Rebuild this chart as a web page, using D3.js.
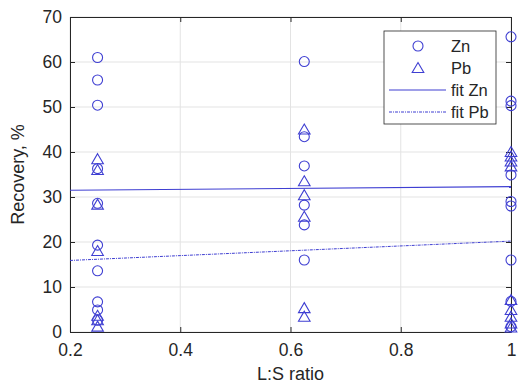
<!DOCTYPE html>
<html>
<head>
<meta charset="utf-8">
<script src="https://cdn.jsdelivr.net/npm/d3@7/dist/d3.min.js"></script>
<style>
  body { margin: 0; background: #fff; }
  text { font-family: "Liberation Sans", Arial, sans-serif; fill: #262626; }
</style>
</head>
<body>
<div id="chart"></div>
<script>
// L:S ratios used in the test
const ratios = [0.25, 0.625, 1];

// recovery of Zn (%) at each ratio
const znAt025 = [61, 56, 50.4, 36.3, 28.6, 19.3, 13.6, 6.7, 4.9, 2.6];
const znAt0625 = [60.1, 43.4, 36.9, 28.2, 23.8, 16.0];
const znAt1 = [65.6, 51.3, 50.3, 34.9, 29, 28, 16, 6.8, 1.2];

// recovery of Pb (%) at each ratio
const pbAt025 = [38.4, 36, 28.3, 18, 3.6, 2.6, 1.2];
const pbAt0625 = [45.0, 33.5, 30.4, 25.6, 5.3, 3.4];
const pbAt1 = [40, 39, 37.9, 36.8, 7.1, 4.9, 3.4, 1.9, 1.0];

// linear fits, [ratio, recovery] at the axis limits
const fitZn = [[0.2, 31.5], [1, 32.3]];
const fitPb = [[0.2, 15.9], [1, 20.2]];

const xTicks = [0.2, 0.4, 0.6, 0.8, 1];
const yTicks = [0, 10, 20, 30, 40, 50, 60, 70];

const blue = '#3f3fd2';

// set the dimensions and margins of the graph
const margin = { top: 17, right: 17, bottom: 53, left: 70 };
const width = 528 - margin.left - margin.right;
const height = 385 - margin.top - margin.bottom;

const svg = d3.select('#chart').append('svg')
  .attr('width', 528)
  .attr('height', 385)
  .append('g')
  .attr('transform', `translate(${margin.left}, ${margin.top})`);

const x = d3.scaleLinear().domain([0.2, 1]).range([0, width]);
const y = d3.scaleLinear().domain([0, 70]).range([height, 0]);

// grid
svg.append('g').selectAll('line.gx').data(xTicks).join('line')
  .attr('x1', (d) => x(d)).attr('x2', (d) => x(d))
  .attr('y1', 0).attr('y2', height)
  .attr('stroke', '#e3e3e3').attr('stroke-width', 1);
svg.append('g').selectAll('line.gy').data(yTicks).join('line')
  .attr('x1', 0).attr('x2', width)
  .attr('y1', (d) => y(d)).attr('y2', (d) => y(d))
  .attr('stroke', '#e3e3e3').attr('stroke-width', 1);

// axes (ticks pointing inward, box around)
svg.append('g')
  .attr('transform', `translate(0, ${height})`)
  .call(d3.axisBottom(x).tickValues(xTicks).tickSizeInner(-5).tickSizeOuter(0)
    .tickPadding(12).tickFormat((d) => (d === 1 ? '1' : d3.format('.1f')(d))));
svg.append('g')
  .call(d3.axisLeft(y).tickValues(yTicks).tickSizeInner(-5).tickSizeOuter(0)
    .tickPadding(8).tickFormat(d3.format('d')));
svg.append('g')
  .call(d3.axisTop(x).tickValues(xTicks).tickSizeInner(-5).tickSizeOuter(0).tickFormat(''));
svg.append('g')
  .attr('transform', `translate(${width}, 0)`)
  .call(d3.axisRight(y).tickValues(yTicks).tickSizeInner(-5).tickSizeOuter(0).tickFormat(''));

svg.selectAll('.domain').attr('stroke', '#262626');
svg.selectAll('.tick line').attr('stroke', '#262626');
svg.selectAll('.tick text')
  .style('font-size', '17.5px')
  .style('font-family', '"Liberation Sans", Arial, sans-serif')
  .attr('fill', '#262626');

// axis labels
svg.append('text')
  .attr('x', width / 2)
  .attr('y', height + 48)
  .attr('text-anchor', 'middle')
  .style('font-size', '18px')
  .text('L:S ratio');
svg.append('text')
  .attr('transform', `translate(${-46}, ${height / 2}) rotate(-90)`)
  .attr('text-anchor', 'middle')
  .style('font-size', '18px')
  .text('Recovery, %');

// fit lines
const line = d3.line().x((d) => x(d[0])).y((d) => y(d[1]));
svg.append('path').datum(fitZn)
  .attr('fill', 'none').attr('stroke', blue).attr('stroke-width', 1.2)
  .attr('d', line);
svg.append('path').datum(fitPb)
  .attr('fill', 'none').attr('stroke', blue).attr('stroke-width', 1)
  .attr('stroke-dasharray', '3,1,1,1')
  .attr('d', line);

// flatten points
const znPoints = [];
[znAt025, znAt0625, znAt1].forEach((vals, i) => vals.forEach((v) => znPoints.push([ratios[i], v])));
const pbPoints = [];
[pbAt025, pbAt0625, pbAt1].forEach((vals, i) => vals.forEach((v) => pbPoints.push([ratios[i], v])));

const triPath = 'M0,-5.5L5.8,4.5L-5.8,4.5Z';

svg.append('g').selectAll('circle').data(znPoints).join('circle')
  .attr('cx', (d) => x(d[0]))
  .attr('cy', (d) => y(d[1]))
  .attr('r', 5)
  .attr('fill', 'none')
  .attr('stroke', blue)
  .attr('stroke-width', 1.1);

svg.append('g').selectAll('path').data(pbPoints).join('path')
  .attr('transform', (d) => `translate(${x(d[0])}, ${y(d[1])})`)
  .attr('d', triPath)
  .attr('fill', 'none')
  .attr('stroke', blue)
  .attr('stroke-width', 1.1);

// legend
const lg = svg.append('g').attr('transform', `translate(${384 - margin.left}, ${31 - margin.top})`);
lg.append('rect')
  .attr('width', 112).attr('height', 93)
  .attr('fill', '#fff').attr('stroke', '#262626').attr('stroke-width', 0.8);
const entries = ['Zn', 'Pb', 'fit Zn', 'fit Pb'];
entries.forEach((name, i) => {
  const cy = 15 + i * 22;
  if (i === 0) {
    lg.append('circle').attr('cx', 34).attr('cy', cy).attr('r', 5)
      .attr('fill', 'none').attr('stroke', blue).attr('stroke-width', 1.1);
  } else if (i === 1) {
    lg.append('path').attr('transform', `translate(34, ${cy})`).attr('d', triPath)
      .attr('fill', 'none').attr('stroke', blue).attr('stroke-width', 1.1);
  } else {
    lg.append('line').attr('x1', 5).attr('x2', 62).attr('y1', cy).attr('y2', cy)
      .attr('stroke', blue).attr('stroke-width', i === 2 ? 1.2 : 1)
      .attr('stroke-dasharray', i === 3 ? '3,1,1,1' : null);
  }
  lg.append('text')
    .attr('x', 67).attr('y', cy + 6)
    .style('font-size', '16.5px')
    .text(name);
});
</script>
</body>
</html>
